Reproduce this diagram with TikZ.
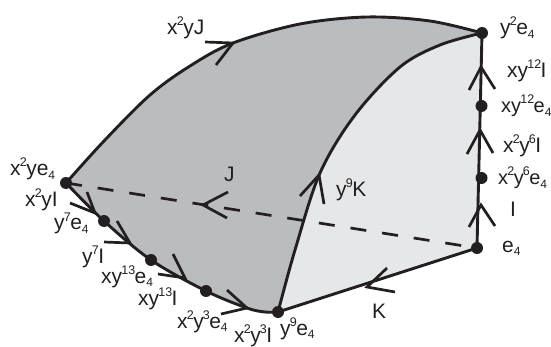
\documentclass[tikz,border=0pt]{standalone}
\usepackage{fontspec}
\setmainfont{Liberation Sans}
\definecolor{ink}{HTML}{231F20}
\definecolor{darkface}{HTML}{BBBCBF}
\definecolor{lightface}{HTML}{E6E7E8}
\tikzset{
 edge/.style={draw=ink,line width=2.9pt},
 barb/.style={draw=ink,line width=2.7pt,line join=miter},
 dash edge/.style={draw=ink,line width=2.7pt,dash pattern=on 16pt off 16pt},
 vertex/.style={circle,fill=ink,inner sep=0pt,minimum size=12pt},
 lab/.style={text=ink,font=\fontsize{21}{21}\selectfont,inner sep=0pt,anchor=base west},
}
\newcommand{\lo}[1]{\raisebox{-3.5pt}{\fontsize{12}{12}\selectfont #1}}
\newcommand{\hi}[1]{\kern-0.8pt\raisebox{9pt}{\fontsize{12.5}{12.5}\selectfont #1}\kern-0.6pt}
\newcommand{\chev}[3]{\draw[barb] (#2) -- (#1) -- (#3);}
\newcommand{\topcurve}{(66,183) (104,141) (150,95) (190,66) (233,43) (300,24) (367,17) (430,21) (482,33)}
\newcommand{\midcurve}{(278,312) (295,250) (320,173) (355,115) (400,67) (440,45) (482,33)}
\newcommand{\lowcurve}{(66,183) (104,221) (151,260) (206,291) (247,308) (265,312) (278,312)}
\begin{document}
\begin{tikzpicture}[x=1pt,y=-1pt]
\useasboundingbox (0,0) rectangle (551,347);
\coordinate (A) at (66,183);
\coordinate (B) at (482,33);
\coordinate (C) at (477,248);
\coordinate (D) at (278,312);
\fill[lightface] (C) -- (D) -- plot[smooth,tension=0.55] coordinates {\midcurve} -- cycle;
\fill[darkface] plot[smooth,tension=0.55] coordinates {\topcurve} -- plot[smooth,tension=0.55] coordinates {(482,33) (440,45) (400,67) (355,115) (320,173) (295,250) (278,312)} -- plot[smooth,tension=0.55] coordinates {(278,312) (265,312) (247,308) (206,291) (151,260) (104,221) (66,183)} -- cycle;
\draw[dash edge] (A) -- (C);
\draw[edge] plot[smooth,tension=0.55] coordinates {\topcurve};
\draw[edge] plot[smooth,tension=0.55] coordinates {\midcurve};
\draw[edge] plot[smooth,tension=0.55] coordinates {\lowcurve};
\draw[edge] (B) -- (C) -- (D);
\node[vertex] (vA) at (A) {};
\node[vertex] (vB) at (B) {};
\node[vertex] (vC) at (C) {};
\node[vertex] (vD) at (D) {};
\node[vertex] (v1) at (104,221) {};
\node[vertex] (v2) at (151,260) {};
\node[vertex] (v3) at (206,291) {};
\node[vertex] (v4) at (481.5,106) {};
\node[vertex] (v5) at (481.5,178) {};
\chev{233,43}{205,42}{216,65}
\chev{203,205}{228,192}{227,218}
\chev{319,175}{300,196}{324,204}
\chev{95,213}{70,203}{87,192}
\chev{130,243}{104,242}{117,221}
\chev{185,278}{158,274}{173,254}
\chev{247,308}{221,314}{227,290}
\chev{367,287}{395,292}{387,268}
\chev{481,67}{469,90}{495,89}
\chev{480,130}{467,154}{493,153}
\chev{481,205}{469,227}{495,226}
\node[lab] (t1) at (167,35) {x\hi{2}yJ};
\node[lab] (t2) at (500,35) {y\hi{2}e\lo{4}};
\node[lab] (t3) at (507,78) {xy\hi{12}I};
\node[lab,font=\fontsize{20}{20}\selectfont] (t4) at (501,113) {xy\hi{12}e\lo{4}};
\node[lab] (t5) at (503,153) {x\hi{2}y\hi{6}I};
\node[lab,font=\fontsize{20}{20}\selectfont] (t6) at (498,185) {x\hi{2}y\hi{6}e\lo{4}};
\node[lab] (t7) at (510,217) {I};
\node[lab] (t8) at (502,252) {e\lo{4}};
\node[lab] (t9) at (372,318) {K};
\node[lab] (t10) at (336,197) {y\hi{9}K};
\node[lab] (t11) at (224,182) {J};
\node[lab] (t12) at (10,176) {x\hi{2}ye\lo{4}};
\node[lab] (t13) at (25,207) {x\hi{2}yI};
\node[lab] (t14) at (54,230) {y\hi{7}e\lo{4}};
\node[lab] (t15) at (82,263) {y\hi{7}I};
\node[lab] (t16) at (101,283) {xy\hi{13}e\lo{4}};
\node[lab] (t17) at (138,305) {xy\hi{13}I};
\node[lab] (t18) at (177,328) {x\hi{2}y\hi{3}e\lo{4}};
\node[lab] (t19) at (234,342) {x\hi{2}y\hi{3}I};
\node[lab] (t20) at (280,335) {y\hi{9}e\lo{4}};
\end{tikzpicture}
\end{document}
